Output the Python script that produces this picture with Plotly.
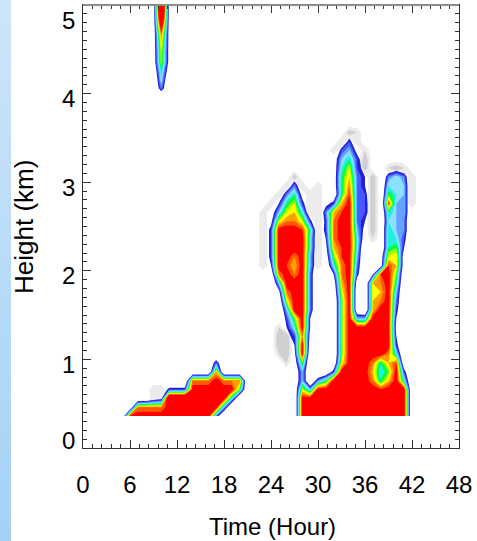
import plotly.graph_objects as go

# ---- gridded field: hourly columns, 0.1 km levels ----------------------------
hours = list(range(49))
heights_km = [0.36, 0.46, 0.56, 0.66, 0.76, 0.86, 0.96, 1.06, 1.16, 1.26,
              1.36, 1.46, 1.56, 1.66, 1.76, 1.86, 1.96, 2.06, 2.16, 2.26,
              2.36, 2.46, 2.56, 2.66, 2.76, 2.86, 2.96, 3.06, 3.16, 3.26,
              3.36, 3.46, 3.56, 3.66, 3.76, 3.86, 3.96, 4.06, 4.16, 4.26,
              4.36, 4.46, 4.56, 4.66, 4.76, 4.86, 4.96, 5.06]

# one string per level, highest level first; one base-36 digit per hour
# (groups of ten hours separated by spaces)
field_rows = [
    "0000000002 m300000000 0000000000 0000000000 000000000",  # 5.06
    "0000000002 m300000000 0000000000 0000000000 000000000",  # 4.96
    "0000000002 k300000000 0000000000 0000000000 000000000",  # 4.86
    "0000000002 g300000000 0000000000 0000000000 000000000",  # 4.76
    "0000000002 d300000000 0000000000 0000000000 000000000",  # 4.66
    "0000000002 c300000000 0000000000 0000000000 000000000",  # 4.56
    "0000000002 b300000000 0000000000 0000000000 000000000",  # 4.46
    "0000000002 b300000000 0000000000 0000000000 000000000",  # 4.36
    "0000000001 9200000000 0000000000 0000000000 000000000",  # 4.26
    "0000000000 8000000000 0000000000 0000000000 000000000",  # 4.16
    "0000000000 6000000000 0000000000 0000000000 000000000",  # 4.06
    "0000000000 0000000000 0000000000 0000000000 000000000",  # 3.96
    "0000000000 0000000000 0000000000 0000000000 000000000",  # 3.86
    "0000000000 0000000000 0000000000 0000000000 000000000",  # 3.76
    "0000000000 0000000000 0000000000 0000000000 000000000",  # 3.66
    "0000000000 0000000000 0000000000 0000210000 000000000",  # 3.56
    "0000000000 0000000000 0000000000 0001510000 000000000",  # 3.46
    "0000000000 0000000000 0000000000 0005730000 000000000",  # 3.36
    "0000000000 0000000000 0000000000 0027952000 000000000",  # 3.26
    "0000000000 0000000000 0000000000 0028b53001 210000000",  # 3.16
    "0000000000 0000000000 0000000200 0029c64006 860000000",  # 3.06
    "0000000000 0000000000 0000001610 0029d64108 870000000",  # 2.96
    "0000000000 0000000000 0000016930 0019e6510a 870000000",  # 2.86
    "0000000000 0000000000 0000049b51 035cf6520e 770000000",  # 2.76
    "0000000000 0000000000 000027bc81 06cef65209 770000000",  # 2.66
    "0000000000 0000000000 00013bddb5 05dff64108 760000000",  # 2.56
    "0000000000 0000000000 00015fffe9 15dff73009 760000000",  # 2.46
    "0000000000 0000000000 00015ffff8 14dff82009 850000000",  # 2.36
    "0000000000 0000000000 00015feff8 13cef80009 a40000000",  # 2.26
    "0000000000 0000000000 00015ffdf7 12aef7002b c20000000",  # 2.16
    "0000000000 0000000000 00004fecf7 118df6002e c20000000",  # 2.06
    "0000000000 0000000000 00001dfdf6 004df504ef a10000000",  # 1.96
    "0000000000 0000000000 000007fff6 002cf20cdf 900000000",  # 1.86
    "0000000000 0000000000 000003dff6 001bf10ccf 700000000",  # 1.76
    "0000000000 0000000000 000001bff6 000af10cdf 600000000",  # 1.66
    "0000000000 0000000000 0000007ff6 000af10cff 500000000",  # 1.56
    "0000000000 0000000000 0000005af4 000af77fff 400000000",  # 1.46
    "0000000000 0000000000 00000048f4 000affffff 300000000",  # 1.36
    "0000000000 0000000000 00000135d3 000affffff 400000000",  # 1.26
    "0000000000 0000000000 00000134f2 000affffff 500000000",  # 1.16
    "0000000000 0000000000 00000123f1 000afffffd 800000000",  # 1.06
    "0000000000 0000000600 00000012a0 001bfffd9c e10000000",  # 0.96
    "0000000000 0000000c00 0000000170 015ffffc8a f50000000",  # 0.86
    "0000000000 0000dddfdd d000000170 69fffffd9c f80000000",  # 0.76
    "0000000001 1555ffffff a0000001b7 ffffffffef ff0000000",  # 0.66
    "0000000002 3kkkfffff8 00000000ff ffffffffff ff0000000",  # 0.56
    "0000000ddd dfffffff70 00000000ff ffffffffff ff0000000",  # 0.46
    "000000ffff fffffff600 00000000ff ffffffffff ff0000000",  # 0.36
]

# faint grey shading (levels 1-3) drawn underneath the coloured field
shade_rows = [
    "0000000000 0000000000 0000000000 0000000000 000000000",  # 5.06
    "0000000000 0000000000 0000000000 0000000000 000000000",  # 4.96
    "0000000000 0000000000 0000000000 0000000000 000000000",  # 4.86
    "0000000000 0000000000 0000000000 0000000000 000000000",  # 4.76
    "0000000000 0000000000 0000000000 0000000000 000000000",  # 4.66
    "0000000000 0000000000 0000000000 0000000000 000000000",  # 4.56
    "0000000000 0000000000 0000000000 0000000000 000000000",  # 4.46
    "0000000000 0000000000 0000000000 0000000000 000000000",  # 4.36
    "0000000000 0000000000 0000000000 0000000000 000000000",  # 4.26
    "0000000000 0000000000 0000000000 0000000000 000000000",  # 4.16
    "0000000000 0000000000 0000000000 0000000000 000000000",  # 4.06
    "0000000000 0000000000 0000000000 0000000000 000000000",  # 3.96
    "0000000000 0000000000 0000000000 0000000000 000000000",  # 3.86
    "0000000000 0000000000 0000000000 0000000000 000000000",  # 3.76
    "0000000000 0000000000 0000000000 0000000000 000000000",  # 3.66
    "0000000000 0000000000 0000000000 0000320000 000000000",  # 3.56
    "0000000000 0000000000 0000000000 0002020000 000000000",  # 3.46
    "0000000000 0000000000 0000000000 0020002000 000000000",  # 3.36
    "0000000000 0000000000 0000000000 0000003000 000000000",  # 3.26
    "0000000000 0000000000 0000000000 0000003002 320000000",  # 3.16
    "0000000000 0000000000 0000000300 0000000300 002000000",  # 3.06
    "0000000000 0000000000 0000002020 2000000300 002000000",  # 2.96
    "0000000000 0000000000 0000020002 2000000300 002000000",  # 2.86
    "0000000000 0000000000 0000200002 2000000300 002000000",  # 2.76
    "0000000000 0000000000 0002000002 2000000300 000000000",  # 2.66
    "0000000000 0000000000 0002000000 2000000300 000000000",  # 2.56
    "0000000000 0000000000 0002000000 2000000300 000000000",  # 2.46
    "0000000000 0000000000 0002000000 2000000200 000000000",  # 2.36
    "0000000000 0000000000 0002000000 2000000000 000000000",  # 2.26
    "0000000000 0000000000 0002000000 2000000000 000000000",  # 2.16
    "0000000000 0000000000 0002000000 2000000000 000000000",  # 2.06
    "0000000000 0000000000 0000000000 0000000000 000000000",  # 1.96
    "0000000000 0000000000 0000000000 0000000000 000000000",  # 1.86
    "0000000000 0000000000 0000000000 0000000000 000000000",  # 1.76
    "0000000000 0000000000 0000000000 0000000000 000000000",  # 1.66
    "0000000000 0000000000 0000000000 0000000000 000000000",  # 1.56
    "0000000000 0000000000 0000000000 0000000000 000000000",  # 1.46
    "0000000000 0000000000 0000020000 0000000000 000000000",  # 1.36
    "0000000000 0000000000 0000033000 0000000000 000000000",  # 1.26
    "0000000000 0000000000 0000033000 0000000000 000000000",  # 1.16
    "0000000000 0000000000 0000023000 0000000000 000000000",  # 1.06
    "0000000000 0000000000 0000002000 0000000000 000000000",  # 0.96
    "0000000000 0000000000 0000000000 0000000000 000000000",  # 0.86
    "0000000000 0000000000 0000000000 0000000000 000000000",  # 0.76
    "0000000002 2000000000 0000000000 0000000000 000000000",  # 0.66
    "0000000002 2000000000 0000000000 0000000000 000000000",  # 0.56
    "0000000000 0000000000 0000000000 0000000000 000000000",  # 0.46
    "0000000000 0000000000 0000000000 0000000000 000000000",  # 0.36
]

# band colours: grey shading levels, then the coloured levels 4..14+
shade_colors = ["rgba(255,255,255,0)", "#ebebeb", "#d0d0d0", "#a6a6a6"]
band_colors = ["rgba(255,255,255,0)",
               "#2222d4", "#4658ff", "#62a4ff", "#8ce0ff",
               "#20f0e0", "#00ff40", "#a0ff00", "#ffff00",
               "#ffa000", "#ff5a00", "#ff0000"]

time_ticks = [0, 6, 12, 18, 24, 30, 36, 42, 48]
height_ticks = [0, 1, 2, 3, 4, 5]


def decode(rows):
    grid = []
    for row in reversed(rows):
        digits = row.replace(" ", "")
        assert len(digits) == len(hours), (row, len(digits))
        grid.append([int(ch, 36) for ch in digits])
    assert len(grid) == len(heights_km)
    return grid


def step_scale(colors):
    n = len(colors)
    scale = []
    for k, col in enumerate(colors):
        scale.append([k / n, col])
        scale.append([(k + 1) / n, col])
    return scale


fig = go.Figure()
fig.add_trace(go.Contour(
    x=hours, y=heights_km, z=decode(shade_rows),
    contours=dict(start=1, end=3, size=1, coloring="fill", showlines=False),
    line=dict(width=0, smoothing=0),
    colorscale=step_scale(shade_colors), showscale=False, hoverinfo="skip",
))
fig.add_trace(go.Contour(
    x=hours, y=heights_km, z=decode(field_rows),
    contours=dict(start=4, end=14, size=1, coloring="fill", showlines=False),
    line=dict(width=0, smoothing=0),
    colorscale=step_scale(band_colors), showscale=False, hoverinfo="skip",
))

# ---- page geometry -------------------------------------------------------------
W, H = 477, 541
L, R, T, B = 83, 18, 5, 93
plot_w, plot_h = W - L - R, H - T - B


def paper_x(px):
    return (px - L) / plot_w


def paper_y(py):
    return (H - B - py) / plot_h


# light-blue gradient strip along the left page edge
shapes = []
n_strips = 40
top_rgb, bot_rgb = (204, 228, 249), (164, 210, 247)
for i in range(n_strips):
    f = i / (n_strips - 1)
    rgb = tuple(round(a + (b - a) * f) for a, b in zip(top_rgb, bot_rgb))
    y0 = H * i / n_strips
    y1 = H * (i + 1) / n_strips
    shapes.append(dict(type="rect", xref="paper", yref="paper",
                       x0=paper_x(0), x1=paper_x(11),
                       y0=paper_y(y1 + 0.5), y1=paper_y(y0),
                       line=dict(width=0), fillcolor="rgb(%d,%d,%d)" % rgb,
                       layer="below"))

# the top frame edge is drawn in a lighter grey
shapes.append(dict(type="line", xref="paper", yref="paper",
                   x0=0, x1=1, y0=1, y1=1,
                   line=dict(color="#8c8c8c", width=2), layer="above"))

font_family = "Liberation Sans"
axis_col = "#333333"

# height labels sit a little below their ticks; the end labels stay inside
annotations = []
for v in height_ticks:
    if v == height_ticks[0]:
        shift = 8
    elif v == height_ticks[-1]:
        shift = -15
    else:
        shift = -5
    annotations.append(dict(text=str(v), xref="paper", yref="y", x=0, y=v,
                            xanchor="right", yanchor="middle", xshift=-6,
                            yshift=shift, showarrow=False,
                            font=dict(size=24)))
annotations.append(dict(text="Height (km)", xref="paper", yref="paper",
                        x=paper_x(24), y=paper_y(227), textangle=-90,
                        xanchor="center", yanchor="middle", showarrow=False,
                        font=dict(size=26)))
annotations.append(dict(text="Time (Hour)", xref="paper", yref="paper",
                        x=paper_x(272), y=paper_y(526),
                        xanchor="center", yanchor="middle", showarrow=False,
                        font=dict(size=24)))

fig.update_layout(
    width=W, height=H,
    margin=dict(l=L, r=R, t=T, b=B, pad=0),
    paper_bgcolor="white", plot_bgcolor="white",
    font=dict(family=font_family, size=24, color="black"),
    showlegend=False,
    shapes=shapes,
    annotations=annotations,
    xaxis=dict(
        range=[0, 48], tickmode="array", tickvals=time_ticks,
        ticktext=[str(t) for t in time_ticks],
        ticks="inside", ticklen=8, tickwidth=1, tickcolor=axis_col,
        minor=dict(dtick=1.2, tick0=0, ticks="inside", ticklen=4,
                   tickwidth=1, tickcolor=axis_col),
        showline=True, linecolor=axis_col, linewidth=1, mirror="allticks",
        showgrid=False, zeroline=False,
        ticklabelstandoff=15,
    ),
    yaxis=dict(
        range=[0, 5], tickmode="array", tickvals=height_ticks,
        ticks="inside", ticklen=8, tickwidth=1, tickcolor=axis_col,
        minor=dict(dtick=0.1, tick0=0, ticks="inside", ticklen=4,
                   tickwidth=1, tickcolor=axis_col),
        showline=True, linecolor=axis_col, linewidth=1, mirror="allticks",
        showgrid=False, zeroline=False, showticklabels=False,
    ),
)

fig.write_html("out.html")
